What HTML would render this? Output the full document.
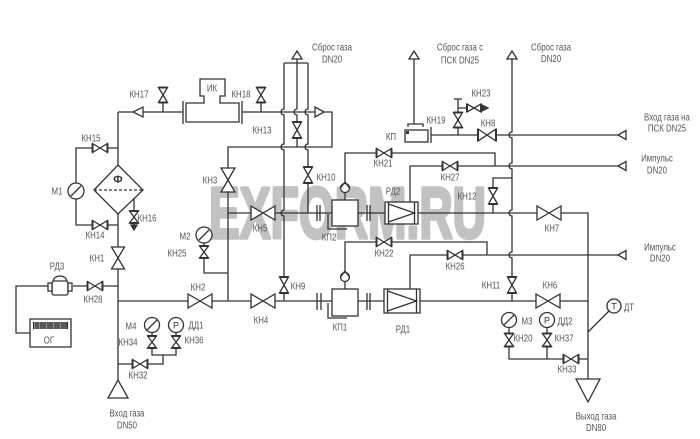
<!DOCTYPE html>
<html><head><meta charset="utf-8"><style>
html,body{margin:0;padding:0;background:#fff;}
body{width:700px;height:439px;overflow:hidden;}
svg{display:block;}
</style></head><body>
<svg xmlns="http://www.w3.org/2000/svg" width="700" height="439" viewBox="0 0 700 439">
<rect width="700" height="439" fill="#fff"/>
<text x="209" y="238" font-family="Liberation Sans, sans-serif" font-weight="bold" font-size="72" textLength="277" lengthAdjust="spacingAndGlyphs" fill="#c2c2c2" stroke="#c2c2c2" stroke-width="3.5" stroke-linejoin="round">EXFORM.RU</text>

<g stroke="#333" stroke-width="1.3" fill="none">
<!-- left -->
<path d="M118,112 V165 M118,214 V380 M118,112 H183 M163,102.5 V112"/>
<path d="M118,148 H76 V183 M76,199 V225 H118"/>
<path d="M134,199 V226"/>
<path d="M118,286 H73 M48,286 H16 V333 H30"/>
<path d="M118,364 H163 V355 M152,332.5 V355 H176 V332.5"/>
<path d="M118,301 H588"/>
<path d="M204,243 V273 H228"/>
<!-- middle -->
<path d="M242,112 H332 V147 H228 V301"/>
<path d="M261,102.5 V112"/>
<path d="M284,63 H308"/>
<path d="M284,63 V109 A3,3 0 0 0 284,115 V144 A3,3 0 0 0 284,150 V210 A3,3 0 0 0 284,216 V301"/>
<path d="M308,63 V109 A3,3 0 0 0 308,115 V144 A3,3 0 0 0 308,150 V213"/>
<path d="M297,59 V109 A3,3 0 0 0 297,115 V147"/>
<path d="M228,213 H332 M358,213 H385 M418,213 H588 V379"/>
<path d="M345,200 V153 H495 V166"/>
<path d="M410,202 V166 H618"/>
<path d="M345,289 V242 H487 V255"/>
<path d="M410,289 V255 H618"/>
<path d="M317,205 V221 M320,205 V221 M367,205 V221 M370,205 V221"/>
<path d="M317,293 V310 M321,293 V310 M367,293 V310 M370,293 V310"/>
<!-- right -->
<path d="M512,59 V132 A3,3 0 0 0 512,138 V163 A3,3 0 0 0 512,169 V210 A3,3 0 0 0 512,216 V252 A3,3 0 0 0 512,258 V301"/>
<path d="M431,135 H618"/>
<path d="M493,204 V213 M493,188 V178 H512"/>
<path d="M509,327.5 V359 H588 M547,327.5 V359"/>
<path d="M588,332 L609,311"/>
<path d="M414,59 V124 M408,127 V124 H423 V127"/>
<path d="M458,135 V99 M454,99 H462 M458,108 H467"/>
</g>

<g stroke="#333" stroke-width="1.3" fill="#fff">
<!-- terminal triangles -->
<path d="M118,380 L128,398 L108,398 Z"/>
<path d="M576,379 L600,379 L588,402 Z"/>
<path d="M297,51 L302,59 L292,59 Z"/>
<path d="M414,51 L419,59 L409,59 Z"/>
<path d="M512,51 L517,59 L507,59 Z"/>
<path d="M618,135 L626,130.5 L626,139.5 Z"/>
<path d="M618,166 L626,161.5 L626,170.5 Z"/>
<path d="M618,255 L626,250.5 L626,259.5 Z"/>
<path d="M133,112 L143,107 L143,117 Z"/>
<path d="M324,112 L315,107 L315,117 Z"/>
<!-- filter -->
<path d="M118,165 L143,190 L118,214 L94,190 Z"/>
<path d="M94,190 H143" fill="none" stroke-dasharray="3,2"/>
<!-- gauges -->
<circle cx="76" cy="191" r="8"/>
<circle cx="204" cy="235" r="8"/>
<circle cx="152" cy="325" r="7.5"/>
<circle cx="176" cy="325" r="7.5"/>
<circle cx="509" cy="320" r="7.5"/>
<circle cx="547" cy="320" r="7.5"/>
<circle cx="614" cy="306" r="7"/>
<path d="M71,196 L81,186 M199,240 L209,230 M147,330 L157,320 M504,325 L514,315" fill="none"/>
<!-- KP1 / KP2 -->
<path d="M328,303 V318 H347" fill="none"/>
<rect x="332" y="289" width="26" height="27"/>
<path d="M328,214 V229 H347" fill="none"/>
<rect x="332" y="200" width="26" height="26"/>
<circle cx="345" cy="277" r="4.5"/>
<circle cx="345" cy="188" r="4.5"/>
<path d="M340.5,277 L345,271 L349.5,277 M340.5,188 L345,182 L349.5,188" fill="none"/>
<!-- RD1 / RD2 -->
<rect x="384" y="289" width="36" height="24"/>
<path d="M387.5,289 V313 M416.5,289 V313 M387.5,291 L416.5,301 L387.5,311" fill="none"/>
<rect x="385" y="202" width="33" height="22"/>
<path d="M388.5,202 V224 M414.5,202 V224 M388.5,204 L414.5,213 L388.5,222" fill="none"/>
<!-- IK -->
<path d="M186,103 L204,103 L204,96 L200,96 L200,79 L225,79 L225,96 L220,96 L220,103 L239,103 L239,122 L186,122 Z"/>
<path d="M183,101 V124 M242,101 V124" fill="none"/>
<!-- KP -->
<rect x="405" y="130" width="23" height="12"/>
<path d="M431,127 V143" fill="none"/>
<rect x="406" y="131" width="3" height="3" fill="#333" stroke="none"/>
<!-- RD3 -->
<path d="M53,282 C53,274 67,274 67,282"/>
<rect x="52" y="281" width="16" height="14" rx="2"/>
<rect x="48" y="283" width="4" height="8"/>
<rect x="68" y="283" width="4" height="8"/>
<!-- OG -->
<rect x="30" y="319" width="41" height="28"/>
<rect x="33" y="322" width="35" height="7" fill="#222" stroke="none"/>
<path d="M34.5,322 V329 M36,322 V329 M38,322 V329 M39.5,322 V329 M41,322 V329 M43,322 V329 M45,322 V329 M46.5,322 V329 M48,322 V329 M50,322 V329 M52,322 V329 M53.5,322 V329 M55,322 V329 M57,322 V329 M59,322 V329 M60.5,322 V329 M62,322 V329 M64,322 V329 M66,322 V329" stroke="#fff" stroke-width="0.5" fill="none"/>
<!-- arrows -->
<path d="M131,225 L137,225 L134,230 Z" fill="#333"/>
<path d="M482,105 L482,111 L488,108 Z" fill="#333"/>

<!-- large valves -->
<path d="M188,294 L212,308 L212,294 L188,308 Z"/>
<path d="M251,294 L275,308 L275,294 L251,308 Z"/>
<path d="M251,206 L275,220 L275,206 L251,220 Z"/>
<path d="M536,294 L560,308 L560,294 L536,308 Z"/>
<path d="M537,206 L561,220 L561,206 L537,220 Z"/>
<path d="M111.5,247 L124.5,269 L111.5,269 L124.5,247 Z"/>
<path d="M221,168 L235,192 L221,192 L235,168 Z"/>

<!-- small horizontal valves -->
<path d="M92.5,143.5 L107.5,152.5 L107.5,143.5 L92.5,152.5 Z"/>
<path d="M92.5,220.5 L107.5,229.5 L107.5,220.5 L92.5,229.5 Z"/>
<path d="M87.5,281.5 L102.5,290.5 L102.5,281.5 L87.5,290.5 Z"/>
<path d="M132.5,359.5 L147.5,368.5 L147.5,359.5 L132.5,368.5 Z"/>
<path d="M376.5,148.5 L391.5,157.5 L391.5,148.5 L376.5,157.5 Z"/>
<path d="M376.5,237.5 L391.5,246.5 L391.5,237.5 L376.5,246.5 Z"/>
<path d="M442.5,161.5 L457.5,170.5 L457.5,161.5 L442.5,170.5 Z"/>
<path d="M447.5,250.5 L462.5,259.5 L462.5,250.5 L447.5,259.5 Z"/>
<path d="M563.5,354.5 L578.5,363.5 L578.5,354.5 L563.5,363.5 Z"/>
<path d="M478,129 L496,141 L496,129 L478,141 Z"/>
<path d="M467,104 L481,112 L481,104 L467,112 Z"/>
<!-- small vertical valves -->
<path d="M158.5,87.5 L167.5,102.5 L158.5,102.5 L167.5,87.5 Z"/>
<path d="M256.5,87.5 L265.5,102.5 L256.5,102.5 L265.5,87.5 Z"/>
<path d="M129.5,211 L138.5,223 L129.5,223 L138.5,211 Z"/>
<path d="M292.5,122 L301.5,138 L292.5,138 L301.5,122 Z"/>
<path d="M303.5,167 L312.5,183 L303.5,183 L312.5,167 Z"/>
<path d="M279.5,277 L288.5,293 L279.5,293 L288.5,277 Z"/>
<path d="M199.5,246 L208.5,258 L199.5,258 L208.5,246 Z"/>
<path d="M147.5,336 L156.5,348 L147.5,348 L156.5,336 Z"/>
<path d="M171.5,336 L180.5,348 L171.5,348 L180.5,336 Z"/>
<path d="M507.5,277 L516.5,293 L507.5,293 L516.5,277 Z"/>
<path d="M488.5,188 L497.5,204 L488.5,204 L497.5,188 Z"/>
<path d="M453.5,112.5 L462.5,127.5 L453.5,127.5 L462.5,112.5 Z"/>
<path d="M504.5,333.5 L513.5,346.5 L504.5,346.5 L513.5,333.5 Z"/>
<path d="M542.5,333.5 L551.5,346.5 L542.5,346.5 L551.5,333.5 Z"/>
</g>
<!-- valve end bars -->
<g stroke="#333" stroke-width="2" fill="none">
<path d="M92.5,143.5 V152.5 M107.5,143.5 V152.5 M92.5,220.5 V229.5 M107.5,220.5 V229.5 M87.5,281.5 V290.5 M102.5,281.5 V290.5 M132.5,359.5 V368.5 M147.5,359.5 V368.5 M376.5,148.5 V157.5 M391.5,148.5 V157.5 M376.5,237.5 V246.5 M391.5,237.5 V246.5 M442.5,161.5 V170.5 M457.5,161.5 V170.5 M447.5,250.5 V259.5 M462.5,250.5 V259.5 M563.5,354.5 V363.5 M578.5,354.5 V363.5 M478,129 V141 M496,129 V141 M467,104 V112 M481,104 V112"/>
<path d="M158.5,87.5 H167.5 M158.5,102.5 H167.5 M256.5,87.5 H265.5 M256.5,102.5 H265.5 M129.5,211 H138.5 M129.5,223 H138.5 M292.5,122 H301.5 M292.5,138 H301.5 M303.5,167 H312.5 M303.5,183 H312.5 M279.5,277 H288.5 M279.5,293 H288.5 M199.5,246 H208.5 M199.5,258 H208.5 M147.5,336 H156.5 M147.5,348 H156.5 M171.5,336 H180.5 M171.5,348 H180.5 M507.5,277 H516.5 M507.5,293 H516.5 M488.5,188 H497.5 M488.5,204 H497.5 M453.5,112.5 H462.5 M453.5,127.5 H462.5 M504.5,333.5 H513.5 M504.5,346.5 H513.5 M542.5,333.5 H551.5 M542.5,346.5 H551.5"/>
</g>

<!-- symbol letters -->
<g font-family="Liberation Sans, sans-serif" fill="#333" text-anchor="middle">
<text x="118" y="183" font-size="11" font-weight="bold">Ф</text>
<text x="176" y="328.5" font-size="9">Р</text>
<text x="547" y="323.5" font-size="9">Р</text>
<text x="614" y="309.5" font-size="9">Т</text>
</g>

<!-- labels -->
<g transform="scale(0.75 1)" font-family="Liberation Sans, sans-serif" font-size="10.5" fill="#555" text-anchor="middle">
<text x="185.3" y="97.5">КН17</text>
<text x="282.7" y="91.5">ИК</text>
<text x="321.3" y="97.5">КН18</text>
<text x="349.3" y="133.5">КН13</text>
<text x="121.3" y="141.5">КН15</text>
<text x="76" y="194.5">М1</text>
<text x="196" y="221.5">КН16</text>
<text x="126.7" y="238.5">КН14</text>
<text x="129.3" y="261.5">КН1</text>
<text x="280" y="183.5">КН3</text>
<text x="434.7" y="180.5">КН10</text>
<text x="346.7" y="231.5">КН5</text>
<text x="438.7" y="240.5">КП2</text>
<text x="246.7" y="239.5">М2</text>
<text x="236" y="256.5">КН25</text>
<text x="76" y="269.5">РД3</text>
<text x="124" y="302.5">КН28</text>
<text x="264" y="290.5">КН2</text>
<text x="348" y="323.5">КН4</text>
<text x="397.3" y="289.5">КН9</text>
<text x="453.3" y="330.5">КП1</text>
<text x="537.3" y="332.5">РД1</text>
<text x="512" y="256.5">КН22</text>
<text x="606.7" y="269.5">КН26</text>
<text x="510.7" y="166.5">КН21</text>
<text x="600" y="180.5">КН27</text>
<text x="524" y="194.5">РД2</text>
<text x="622.7" y="199.5">КН12</text>
<text x="736" y="231.5">КН7</text>
<text x="654.7" y="288.5">КН11</text>
<text x="733.3" y="288.5">КН6</text>
<text x="702.7" y="324.5">М3</text>
<text x="753.3" y="324.5">ДД2</text>
<text x="697.3" y="341.5">КН20</text>
<text x="752" y="341.5">КН37</text>
<text x="756" y="372.5">КН33</text>
<text x="838.7" y="310.5">ДТ</text>
<text x="174.7" y="329.5">М4</text>
<text x="261.3" y="328.5">ДД1</text>
<text x="170.7" y="345.5">КН34</text>
<text x="258.7" y="343.5">КН36</text>
<text x="184" y="378.5">КН32</text>
<text x="65.3" y="343.5">ОГ</text>
<text x="521.3" y="140">КП</text>
<text x="581.3" y="123.5">КН19</text>
<text x="641.3" y="96.5">КН23</text>
<text x="650.7" y="126.5">КН8</text>
<text x="169.3" y="416.5">Вход газа</text>
<text x="169.3" y="428.5">DN50</text>
<text x="794.7" y="419.5">Выход газа</text>
<text x="794.7" y="431">DN80</text>
<text x="442.7" y="50.5">Сброс газа</text>
<text x="442.7" y="62.5">DN20</text>
<text x="613.3" y="50.5">Сброс газа с</text>
<text x="613.3" y="63.5">ПСК DN25</text>
<text x="734.7" y="50.5">Сброс газа</text>
<text x="734.7" y="62">DN20</text>
<text x="889.3" y="120.5">Вход газа на</text>
<text x="889.3" y="131.5">ПСК DN25</text>
<text x="876" y="161.5">Импульс</text>
<text x="876" y="173.5">DN20</text>
<text x="880" y="250.5">Импульс</text>
<text x="880" y="261.5">DN20</text>
</g>
</svg>
</body></html>
